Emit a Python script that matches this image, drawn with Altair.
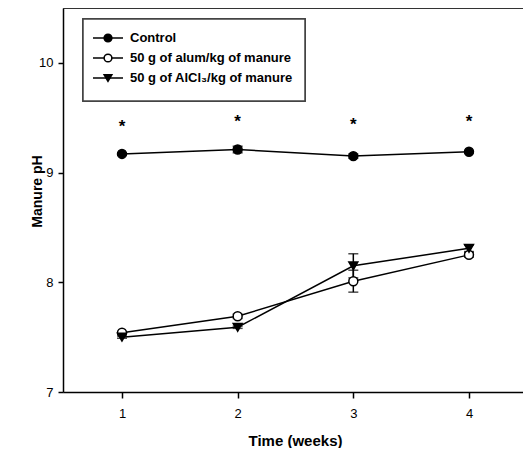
import altair as alt
import pandas as pd

# ---- data ----
weeks = [1, 2, 3, 4]
series_names = ["Control", "50 g of alum/kg of manure", "50 g of AlCl₃/kg of manure"]
control = [9.17, 9.21, 9.15, 9.19]
control_se = [0.01, 0.03, 0.02, 0.01]
alum = [7.54, 7.69, 8.01, 8.25]
alum_se = [0.01, 0.02, 0.10, 0.02]
alcl3 = [7.50, 7.59, 8.15, 8.31]
alcl3_se = [0.01, 0.01, 0.11, 0.03]
star_y = [9.456, 9.496, 9.474, 9.496]

FONT = "Liberation Sans, Arial, Helvetica, sans-serif"

rows = []
for name, vals, ses in zip(series_names, [control, alum, alcl3], [control_se, alum_se, alcl3_se]):
    for w, v, s in zip(weeks, vals, ses):
        rows.append({"week": w, "value": v, "lo": v - s, "hi": v + s, "series": name})
df = pd.DataFrame(rows)
stars = pd.DataFrame({"week": weeks, "y": star_y, "t": ["*"] * 4})

xs = alt.Scale(domain=[0.49, 4.467], nice=False, zero=False)
ys = alt.Scale(domain=[7, 10.5], nice=False, zero=False)

shape_scale = alt.Scale(domain=series_names, range=["circle", "circle", "triangle-down"])
fill_scale = alt.Scale(domain=series_names, range=["black", "white", "black"])

base = alt.Chart(df)

lines = base.mark_line(color="black", strokeWidth=1.5).encode(
    x=alt.X("week:Q", scale=xs,
            axis=alt.Axis(values=weeks, format="d", title="Time (weeks)", grid=False,
                          tickSize=6, labelPadding=9, titleX=232, titleY=48,
                          titleBaseline="middle")),
    y=alt.Y("value:Q", scale=ys,
            axis=alt.Axis(values=[7, 8, 9, 10], format="d", title="Manure pH", grid=False,
                          tickSize=5, labelPadding=5, titleX=-26, titleY=183,
                          titleBaseline="middle", titleAlign="center", titleAngle=-90)),
    detail="series:N",
)

err = base.mark_rule(color="black", strokeWidth=1.5).encode(
    x=alt.X("week:Q", scale=xs), y=alt.Y("lo:Q", scale=ys), y2="hi:Q"
)
cap_lo = base.mark_tick(color="black", orient="horizontal", size=10, thickness=1.5).encode(
    x=alt.X("week:Q", scale=xs), y=alt.Y("lo:Q", scale=ys)
)
cap_hi = base.mark_tick(color="black", orient="horizontal", size=10, thickness=1.5).encode(
    x=alt.X("week:Q", scale=xs), y=alt.Y("hi:Q", scale=ys)
)

points = base.mark_point(stroke="black", strokeWidth=1.5, size=80, opacity=1, filled=False).encode(
    x=alt.X("week:Q", scale=xs),
    y=alt.Y("value:Q", scale=ys),
    shape=alt.Shape("series:N", scale=shape_scale, legend=None),
    fill=alt.Fill("series:N", scale=fill_scale, legend=None),
)

star_text = alt.Chart(stars).mark_text(
    text="*", font=FONT, fontSize=17, fontWeight="bold", baseline="middle", dy=4, color="black"
).encode(x=alt.X("week:Q", scale=xs), y=alt.Y("y:Q", scale=ys))

# top frame line
top_line = alt.Chart(stars).mark_rule(color="#333333", strokeWidth=2).encode(
    x=alt.value(0), x2=alt.value(460), y=alt.value(0)
)

# ---- legend (built by hand) ----
legend_box = alt.Chart(stars).mark_rect(fill="white", stroke="#444444", strokeWidth=1.5).encode(
    x=alt.value(20), x2=alt.value(242), y=alt.value(11), y2=alt.value(93)
)
legend_layers = [legend_box]
row_y = [30, 50, 70]
leg_shapes = ["circle", "circle", "triangle-down"]
leg_fills = ["black", "white", "black"]
for name, ry, shp, fl in zip(series_names, row_y, leg_shapes, leg_fills):
    ldf = pd.DataFrame({"label": [name]})
    seg = alt.Chart(ldf).mark_rule(color="black", strokeWidth=1.5).encode(
        x=alt.value(30), x2=alt.value(60), y=alt.value(ry)
    )
    sym = alt.Chart(ldf).mark_point(shape=shp, fill=fl, stroke="black", strokeWidth=1.5,
                                    size=60, opacity=1, filled=False).encode(
        x=alt.value(45), y=alt.value(ry)
    )
    txt = alt.Chart(ldf).mark_text(font=FONT, fontSize=13, fontWeight="bold", align="left",
                                   baseline="middle", color="black").encode(
        x=alt.value(67), y=alt.value(ry), text="label:N"
    )
    legend_layers += [seg, sym, txt]

chart = alt.layer(
    lines, err, cap_lo, cap_hi, points, star_text, top_line, *legend_layers
).properties(
    width=460, height=384,
    autosize=alt.AutoSizeParams(type="none"),
    padding={"left": 55, "top": 0, "right": 0, "bottom": 56},
).configure_view(stroke=None).configure_axis(
    domainColor="black", domainWidth=1.5, tickColor="black", tickWidth=1.5,
    labelFont=FONT, labelFontSize=13, labelColor="black",
    titleFont=FONT, titleFontSize=15, titleFontWeight="bold", titleColor="black",
).configure_axisY(titleFontSize=14)

chart.save("out.html", embed_options={"renderer": "svg", "actions": False})
